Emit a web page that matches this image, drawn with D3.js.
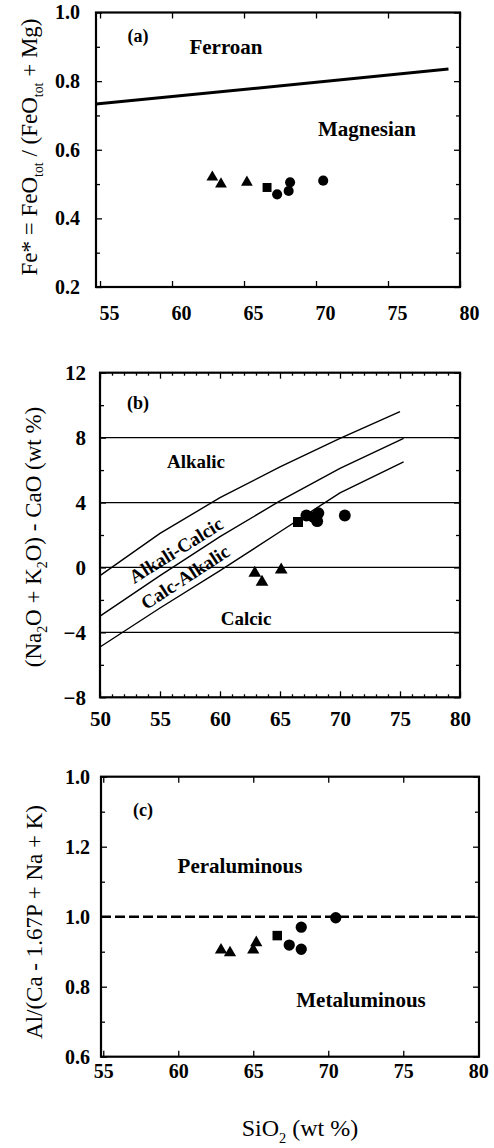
<!DOCTYPE html>
<html>
<head>
<meta charset="utf-8">
<script src="https://cdn.jsdelivr.net/npm/d3@7"></script>
<style>
body { margin: 0; background: #fff; }
svg text, svg tspan { font-family: "Liberation Serif", "Times New Roman", serif !important; fill: #000; }
</style>
</head>
<body>
<div id="chart"></div>
<script>
//tick values and printed tick labels
var xTicksA = [55, 60, 65, 70, 75, 80];
var yTicksA = [0.2, 0.4, 0.6, 0.8, 1.0];
var xTicksB = [50, 55, 60, 65, 70, 75, 80];
var yTicksB = [-8, -4, 0, 4, 8, 12];
var xTicksC = [55, 60, 65, 70, 75, 80];
var yTicksC = [0.6, 0.8, 1.0, 1.2, 1.4];
var yLabelsC = ["0.6", "0.8", "1.0", "1.2", "1.0"]; //top label is printed "1.0" in the source

//(a) Fe* vs SiO2
var shapeA = ["tri", "tri", "tri", "sq", "circ", "circ", "circ", "circ"];
var sio2A = [62.8, 63.4, 65.2, 66.6, 67.3, 68.2, 68.1, 70.5];
var feA = [0.52, 0.50, 0.505, 0.49, 0.47, 0.505, 0.48, 0.51];
var ferroanLine = [[54.72, 0.733], [79.2, 0.835]];

//(b) MALI vs SiO2
var shapeB = ["tri", "tri", "tri", "sq", "circ", "circ", "circ", "circ", "circ"];
var sio2B = [62.9, 63.5, 65.1, 66.5, 67.2, 67.8, 68.2, 68.1, 70.4];
var maliB = [-0.35, -0.9, -0.15, 2.8, 3.2, 3.1, 3.35, 2.85, 3.2];
var alkalicLine = [[50, -0.5], [55, 2.1], [60, 4.3], [65, 6.2], [70, 7.95], [75, 9.6]];
var alkaliCalcicLine = [[50, -3.0], [55, -0.5], [60, 1.9], [65, 4.1], [70, 6.1], [75.3, 7.95]];
var calcAlkalicLine = [[50, -4.9], [55, -2.5], [60, -0.2], [65, 2.2], [70, 4.6], [75.3, 6.5]];
var hLinesB = [8, 4, 0, -4];

//(c) ASI vs SiO2
var shapeC = ["tri", "tri", "tri", "tri", "sq", "circ", "circ", "circ", "circ"];
var sio2C = [62.85, 63.45, 65.0, 65.2, 66.6, 67.4, 68.2, 68.2, 70.5];
var asiC = [0.905, 0.897, 0.905, 0.926, 0.946, 0.919, 0.970, 0.907, 0.997];
var asiLine = 1.0;

var w = 494, h = 1148;
var svg = d3.select("#chart").append("svg").attr("width", w).attr("height", h);

var symbolType = { tri: d3.symbolTriangle, sq: d3.symbolSquare, circ: d3.symbolCircle };
var serif = '"Liberation Serif", "Times New Roman", serif';

//writes text with subscripts given as {t, sub}
function richText(sel, parts, size) {
    parts.forEach(function(p, i) {
        var ts = sel.append("tspan").text(p.t);
        if (p.sub) ts.attr("font-size", size * 0.6).attr("dy", size * 0.28);
        else if (i > 0 && parts[i - 1].sub) ts.attr("dy", -size * 0.28);
    });
}

function drawPanel(c) {
    var x = c.x, y = c.y;
    var g = svg.append("g");
    var x0 = x.range()[0], x1 = x.range()[1], y0 = y.range()[0], y1 = y.range()[1];

    //ticks on all four sides, pointing in
    function axis(fn, sc, vals, size, pos, labels) {
        var a = fn(sc).tickValues(vals).tickSize(-size).tickPadding(10);
        if (!labels) a.tickFormat("");
        else if (labels !== true) a.tickFormat(function(d, i) { return labels[i]; });
        var ag = g.append("g").attr("transform", pos).call(a)
            .attr("font-family", serif).attr("font-size", c.fs);
        ag.select(".domain").remove();
        ag.selectAll("line").attr("stroke", "#000").attr("stroke-width", 1.3);
        return ag;
    }
    var bx = axis(d3.axisBottom, x, c.xt, 6, "translate(0," + y0 + ")", true);
    bx.selectAll("text")
        .style("font-family", serif).style("font-weight", "bold").style("font-size", c.fs + "px")
        .attr("dx", c.xdx || 0).attr("y", c.xpad).attr("dy", "0.71em");
    axis(d3.axisTop, x, c.xt, 6, "translate(0," + y1 + ")", false);
    var ly = axis(d3.axisLeft, y, c.yt, 6, "translate(" + x0 + ",0)", c.yl || true);
    ly.selectAll("text")
        .style("font-family", serif).style("font-weight", "bold").style("font-size", c.fs + "px")
        .attr("x", -c.ypad);
    axis(d3.axisRight, y, c.yt, 6, "translate(" + x1 + ",0)", false);
    if (c.xm) {
        axis(d3.axisBottom, x, c.xm, 3, "translate(0," + y0 + ")", false);
        axis(d3.axisTop, x, c.xm, 3, "translate(0," + y1 + ")", false);
    }
    if (c.ym) {
        axis(d3.axisLeft, y, c.ym, 4, "translate(" + x0 + ",0)", false);
        axis(d3.axisRight, y, c.ym, 4, "translate(" + x1 + ",0)", false);
    }

    //frame
    g.append("rect")
        .attr("x", x0).attr("y", y1)
        .attr("width", x1 - x0).attr("height", y0 - y1)
        .attr("fill", "none").attr("stroke", "#000").attr("stroke-width", 2.2);
    return g;
}

function drawPoints(g, x, y, xs, ys, shapes, sizes) {
    g.selectAll(".pt").data(xs.map(function(v, i) { return [v, ys[i], shapes[i]]; }))
        .enter().append("path")
        .attr("class", "pt")
        .attr("transform", function(d) { return "translate(" + x(d[0]) + "," + y(d[1]) + ")"; })
        .attr("d", function(d) { return d3.symbol().type(symbolType[d[2]]).size(sizes[d[2]])(); })
        .attr("fill", "#000");
}

function label(g, txt, px, py, size, rot) {
    return g.append("text")
        .attr("text-anchor", "middle").attr("dy", "0.35em")
        .style("font-size", size + "px").style("font-weight", "bold")
        .attr("transform", "translate(" + px + "," + py + ")" + (rot ? " rotate(" + rot + ")" : ""))
        .text(txt);
}

function title(parts, px, py, size, rot) {
    var t = svg.append("text")
        .attr("text-anchor", "middle").attr("dy", "0.35em")
        .attr("font-size", size)
        .attr("transform", "translate(" + px + "," + py + ")" + (rot ? " rotate(" + rot + ")" : ""));
    richText(t, parts, size);
}

var line = d3.line();

//panel (a)
var xA = d3.scaleLinear().domain([54.72, 80]).range([96, 460]);
var yA = d3.scaleLinear().domain([0.2, 1.0]).range([287, 12.5]);
var gA = drawPanel({ x: xA, y: yA, xt: xTicksA, yt: yTicksA, ym: [0.3, 0.5, 0.7, 0.9],
    fs: 20, xpad: 19, xdx: 9, ypad: 16 });
gA.append("path")
    .attr("d", line(ferroanLine.map(function(d) { return [xA(d[0]), yA(d[1])]; })))
    .attr("fill", "none").attr("stroke", "#000").attr("stroke-width", 3);
drawPoints(gA, xA, yA, sio2A, feA, shapeA, { tri: 60, sq: 80, circ: 80 });
label(gA, "(a)", 138, 36, 18);
label(gA, "Ferroan", 226, 47, 21);
label(gA, "Magnesian", 367, 129, 21);
title([{ t: "Fe* = FeO" }, { t: "tot", sub: true }, { t: " / (FeO" }, { t: "tot", sub: true }, { t: " + Mg)" }],
    29, 147, 23, -90);

//panel (b)
var xB = d3.scaleLinear().domain([50, 80]).range([100, 460]);
var yB = d3.scaleLinear().domain([-8, 12]).range([697.3, 372.7]);
var gB = drawPanel({ x: xB, y: yB, xt: xTicksB, yt: yTicksB, ym: [-6, -2, 2, 6, 10],
    xm: d3.range(51, 80).filter(function(v) { return v % 5; }),
    fs: 21, xpad: 14, ypad: 14 });
hLinesB.forEach(function(v) {
    gB.append("line")
        .attr("x1", xB(50)).attr("x2", xB(80))
        .attr("y1", yB(v)).attr("y2", yB(v))
        .attr("stroke", "#000").attr("stroke-width", 1.3);
});
[alkalicLine, alkaliCalcicLine, calcAlkalicLine].forEach(function(l) {
    gB.append("path")
        .attr("d", line(l.map(function(d) { return [xB(d[0]), yB(d[1])]; })))
        .attr("fill", "none").attr("stroke", "#000").attr("stroke-width", 1.4);
});
drawPoints(gB, xB, yB, sio2B, maliB, shapeB, { tri: 70, sq: 100, circ: 110 });
label(gB, "(b)", 138, 403, 18);
label(gB, "Alkalic", 196, 461, 19);
label(gB, "Alkali-Calcic", 176, 550, 19, -32);
label(gB, "Calc-Alkalic", 185, 577, 19, -33);
label(gB, "Calcic", 246, 618, 19);
title([{ t: "(Na" }, { t: "2", sub: true }, { t: "O + K" }, { t: "2", sub: true }, { t: "O) - CaO (wt %)" }],
    33, 537, 23, -90);

//panel (c)
var xC = d3.scaleLinear().domain([54.85, 80.05]).range([101, 479]);
var yC = d3.scaleLinear().domain([0.6, 1.4]).range([1056.7, 776.7]);
var gC = drawPanel({ x: xC, y: yC, xt: xTicksC, yt: yTicksC, yl: yLabelsC, ym: [0.7, 0.9, 1.1, 1.3],
    fs: 20, xpad: 7, ypad: 11 });
gC.append("line")
    .attr("x1", xC(54.85)).attr("x2", xC(80.05))
    .attr("y1", yC(asiLine)).attr("y2", yC(asiLine))
    .attr("stroke", "#000").attr("stroke-width", 2.6).attr("stroke-dasharray", "10,4");
drawPoints(gC, xC, yC, sio2C, asiC, shapeC, { tri: 65, sq: 90, circ: 100 });
label(gC, "(c)", 143, 810, 18);
label(gC, "Peraluminous", 240, 866, 21);
label(gC, "Metaluminous", 361, 1000, 21);
title([{ t: "Al/(Ca - 1.67P + Na + K)" }], 34, 922, 23, -90);

title([{ t: "SiO" }, { t: "2", sub: true }, { t: " (wt %)" }], 300, 1128, 24, 0);
</script>
</body>
</html>
